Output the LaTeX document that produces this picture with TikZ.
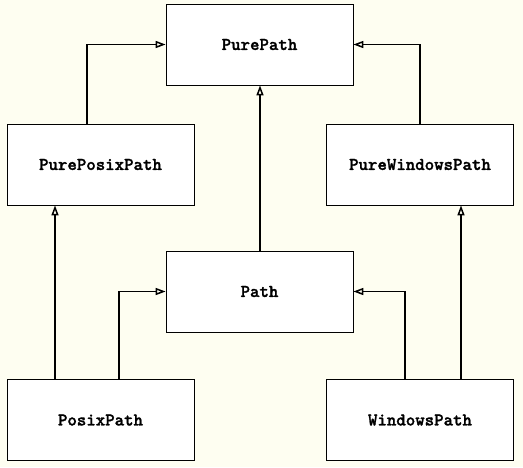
\documentclass[tikz,border=0pt]{standalone}
\usepackage{fontspec}
\usepackage{tikz}
\usetikzlibrary{arrows.meta}

\newfontfamily\klassenschrift{lmmonolt10-bold.otf}[FakeBold=1.5]
\definecolor{hintergrund}{RGB}{254,254,241}

\begin{document}
\begin{tikzpicture}[x=1pt,y=-1pt,
    klasse/.style={draw, line width=0.8pt, fill=white,
                   minimum width=187pt, minimum height=81pt,
                   font=\fontsize{18}{20}\selectfont\klassenschrift},
    erbt/.style={line width=1.5pt,
                 -{Triangle[open, length=10pt, width=7pt]}}
    ]

    % Hintergrund
    \fill[hintergrund] (0,0) rectangle (523,467);

    % Klassen oben
    \node[klasse] (PurePath) at (259.5,44.5) {PurePath};
    \node[klasse] (PurePosixPath) at (100.5,164.5) {PurePosixPath};
    \node[klasse] (PureWindowsPath) at (420,164.5) {PureWindowsPath};

    % Klassen unten
    \node[klasse] (Path) at (259.5,291.5) {Path};
    \node[klasse] (PosixPath) at (100.5,420) {PosixPath};
    \node[klasse] (WindowsPath) at (420,420) {WindowsPath};

    % Vererbung zu PurePath
    \draw[erbt] ([xshift=-13.5pt]PurePosixPath.north) |- (PurePath.west);
    \draw[erbt] (PureWindowsPath.north) |- (PurePath.east);
    \draw[erbt] ([xshift=0.5pt]Path.north) -- ([xshift=0.5pt]PurePath.south);

    % Vererbung von PosixPath
    \draw[erbt] ([xshift=-45.5pt]PosixPath.north) -- ([xshift=-45.5pt]PurePosixPath.south);
    \draw[erbt] ([xshift=18.5pt]PosixPath.north) |- (Path.west);

    % Vererbung von WindowsPath
    \draw[erbt] ([xshift=-15pt]WindowsPath.north) |- (Path.east);
    \draw[erbt] ([xshift=41pt]WindowsPath.north) -- ([xshift=41pt]PureWindowsPath.south);

\end{tikzpicture}
\end{document}
